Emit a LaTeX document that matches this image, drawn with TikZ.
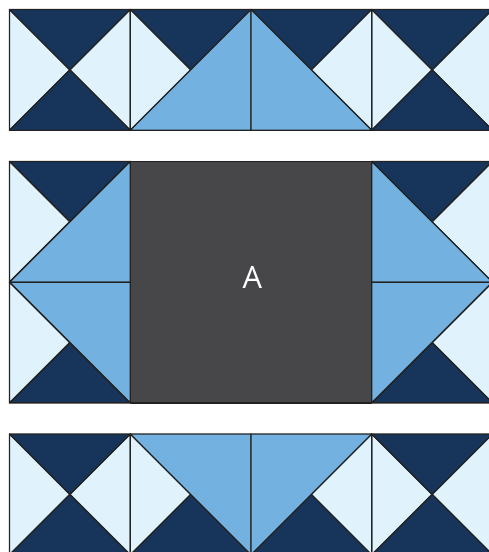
\documentclass[tikz,border=0pt]{standalone}
\usepackage{fontspec}
\setmainfont{Open Sans}

\definecolor{navy}{HTML}{17355A}
\definecolor{sky}{HTML}{73B2E0}
\definecolor{ice}{HTML}{E0F3FD}
\definecolor{slate}{HTML}{474749}
\definecolor{seam}{HTML}{222222}

\begin{document}
\begin{tikzpicture}[
			x=2cm,y=-2cm,
			patch/.style={draw=seam,line width=0.6pt,line join=round},
			dark/.style={patch,fill=navy},
			light/.style={patch,fill=ice},
			mid/.style={patch,fill=sky},
			plain/.style={
				patch,fill=slate,
				minimum width=4cm,minimum height=4cm,
				inner sep=0pt
			},
			tag/.style={
				text=white,inner sep=0pt,
				font=\fontsize{14.5pt}{16pt}\selectfont
			}
			]
			
			\useasboundingbox (-0.0787,-0.0787) rectangle (3.963,4.493);
			
			% hourglass corners
			\foreach \cx/\cy in {0/0,3/0,0/3.516,3/3.516}{
				\begin{scope}[shift={(\cx,\cy)}]
					\path[light] (0,0) -- (.5,.5) -- (0,1) -- cycle;
					\path[light] (1,0) -- (.5,.5) -- (1,1) -- cycle;
					\path[dark] (0,0) -- (1,0) -- (.5,.5) -- cycle;
					\path[dark] (0,1) -- (1,1) -- (.5,.5) -- cycle;
				\end{scope}
			}
			
			% dark side (0 top, 1 bottom) and light side (0 left, 1 right)
			\foreach \cx/\cy/\dy/\lx in {1/0/0/0,2/0/0/1,
				0/1.258/0/0,0/2.258/1/0,3/1.258/0/1,3/2.258/1/1,
				1/3.516/1/0,2/3.516/1/1}{
				\begin{scope}[shift={(\cx,\cy)}]
					\path[dark] (0,\dy) -- (1,\dy) -- (.5,.5) -- cycle;
					\path[light] (\lx,0) -- (\lx,1) -- (.5,.5) -- cycle;
					\path[mid] (\lx,1-\dy) -- (1-\lx,1-\dy) -- (1-\lx,\dy) -- cycle;
				\end{scope}
			}
			
			\node[plain] (blockA) at (2,2.258) {};
			\node[tag] (labelA) at ([xshift=0.7pt,yshift=2.1pt]blockA.center) {A};
			
		\end{tikzpicture}
\end{document}
